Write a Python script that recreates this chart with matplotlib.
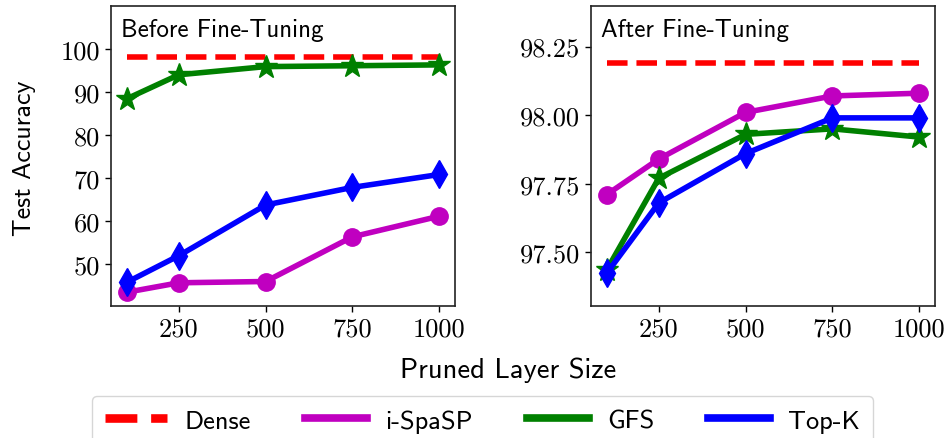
import matplotlib
matplotlib.use("Agg")
import matplotlib.pyplot as plt

# Pruned layer sizes
layer_sizes = [100, 250, 500, 750, 1000]
x_ticks = [250, 500, 750, 1000]

# Test accuracy before fine-tuning
before_dense = 98.19
before_ispasp = [43.4, 45.6, 45.9, 56.3, 61.1]
before_gfs = [88.4, 94.0, 95.9, 96.1, 96.3]
before_topk = [45.7, 51.9, 63.7, 67.8, 70.8]

# Test accuracy after fine-tuning
after_dense = 98.19
after_ispasp = [97.71, 97.84, 98.01, 98.07, 98.08]
after_gfs = [97.435, 97.77, 97.93, 97.95, 97.92]
after_topk = [97.423, 97.68, 97.86, 97.99, 97.99]

left_yticks = [50, 60, 70, 80, 90, 100]
right_yticks = [97.50, 97.75, 98.00, 98.25]

plt.rcParams["axes.formatter.use_mathtext"] = True
plt.rcParams["mathtext.fontset"] = "cm"

SANS = "cmss10"
SERIF = "cmr10"
TICK_SIZE = 19

W, H = 948, 439
fig = plt.figure(figsize=(W / 100, H / 100), dpi=100)
ax1 = fig.add_axes([111 / W, 1 - 307 / H, 344 / W, 300 / H])
ax2 = fig.add_axes([591 / W, 1 - 307 / H, 344 / W, 300 / H])

lw = 4
styles = dict(
    ispasp=dict(color="#c000c0", marker="o", markersize=12.5),
    gfs=dict(color="#008000", marker="*", markersize=17),
    topk=dict(color="#0000ff", marker="d", markersize=14),
)


def draw(ax, dense, ispasp, gfs, topk):
    ax.plot([layer_sizes[0], layer_sizes[-1]], [dense, dense], color="red",
            linestyle="--", lw=lw, label="Dense", zorder=2)
    ax.plot(layer_sizes, ispasp, lw=lw, label="i-SpaSP", zorder=3, **styles["ispasp"])
    ax.plot(layer_sizes, gfs, lw=lw, label="GFS", zorder=4, **styles["gfs"])
    ax.plot(layer_sizes, topk, lw=lw, label="Top-K", zorder=5, **styles["topk"])
    ax.set_xticks(x_ticks)
    ax.set_xticklabels([f"{t}" for t in x_ticks], fontfamily=SERIF, fontsize=TICK_SIZE)
    ax.tick_params(axis="both", length=4, width=1, pad=4)
    for s in ax.spines.values():
        s.set_linewidth(1.2)
        s.set_color("#222222")


draw(ax1, before_dense, before_ispasp, before_gfs, before_topk)
draw(ax2, after_dense, after_ispasp, after_gfs, after_topk)

ax1.set_ylim(40.2, 110)
ax1.set_yticks(left_yticks)
ax1.set_yticklabels([f"{t}" for t in left_yticks], fontfamily=SERIF, fontsize=TICK_SIZE)
ax2.set_ylim(97.304, 98.398)
ax2.set_yticks(right_yticks)
ax2.set_yticklabels([f"{t:.2f}" for t in right_yticks], fontfamily=SERIF, fontsize=TICK_SIZE)

ax1.text(0.029, 0.9, "Before Fine-Tuning", transform=ax1.transAxes,
         ha="left", va="baseline", fontfamily=SANS, fontsize=18)
ax2.text(0.029, 0.9, "After Fine-Tuning", transform=ax2.transAxes,
         ha="left", va="baseline", fontfamily=SANS, fontsize=18)

fig.text(25 / W, 1 - 158 / H, "Test Accuracy", rotation=90, ha="center", va="center",
         fontfamily=SANS, fontsize=18.7)
fig.text(508.5 / W, 1 - 378 / H, "Pruned Layer Size", ha="center", va="baseline",
         fontfamily=SANS, fontsize=20.5)

handles, labels = ax1.get_legend_handles_labels()
leg_handles = []
for h in handles:
    dashed = h.get_linestyle() == "--"
    leg_handles.append(plt.Line2D([], [], color=h.get_color(), lw=6.2 if dashed else 5.5,
                                  linestyle=h.get_linestyle()))
fig.legend(leg_handles, labels, loc="upper center", bbox_to_anchor=(482.5 / W, 1 - 397 / H),
           ncol=4, prop={"family": SANS, "size": 19}, handlelength=2.35,
           handletextpad=0.68, columnspacing=2.05, frameon=True, fancybox=True,
           borderpad=0.5, borderaxespad=0)

fig.savefig("out.png", dpi=100)
